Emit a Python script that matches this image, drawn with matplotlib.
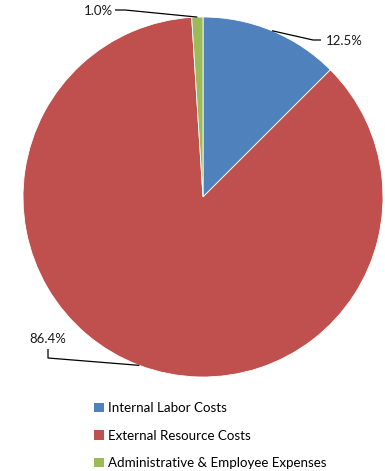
import matplotlib.pyplot as plt
import numpy as np
from matplotlib.patches import Patch

plt.rcParams['font.family'] = ['Lato', 'DejaVu Sans']

categories = ['Internal Labor Costs', 'External Resource Costs',
              'Administrative & Employee Expenses']
shares = [12.5, 86.4, 1.0]
pct_labels = ['12.5%', '86.4%', '1.0%']
colors = ['#4F81BD', '#C0504D', '#9BBB59']

W, H = 385, 471
fig = plt.figure(figsize=(W / 100, H / 100), dpi=100)
ax = fig.add_axes([0, 0, 1, 1])

cx, cy, r = 203, H - 197, 180
wedges, _ = ax.pie(shares, colors=colors, startangle=90, counterclock=False,
                   center=(cx, cy), radius=r, frame=True,
                   wedgeprops=dict(edgecolor='white', linewidth=0.6))
ax.set_xlim(0, W)
ax.set_ylim(0, H)
ax.set_aspect('equal')
ax.axis('off')

# leader lines: (elbow point, line end, text anchor, alignment) per slice
label_spots = [
    ((313, H - 40), (321, H - 40), (326, H - 41), 'left'),
    ((48, H - 358), (48, H - 349), (48, H - 339), 'center'),
    ((125, H - 10), (115, H - 10), (113, H - 11), 'right'),
]
for w, txt, (elbow, end, tpos, ha) in zip(wedges, pct_labels, label_spots):
    mid = np.deg2rad((w.theta1 + w.theta2) / 2)
    edge = (cx + r * np.cos(mid), cy + r * np.sin(mid))
    ax.plot([edge[0], elbow[0], end[0]], [edge[1], elbow[1], end[1]],
            color='black', lw=0.9, solid_capstyle='butt')
    ax.text(tpos[0], tpos[1], txt, ha=ha, va='center', fontsize=9.5, color='#1a1a1a')

handles = [Patch(facecolor=c, edgecolor='none') for c in colors]
fig.legend(handles, categories, loc='upper left', bbox_to_anchor=(89 / W, 1 - 397 / H),
           frameon=False, fontsize=9.6, handlelength=0.7, handleheight=0.7,
           handletextpad=0.35, labelspacing=1.15, borderaxespad=0)

fig.savefig('out.png', dpi=100)
